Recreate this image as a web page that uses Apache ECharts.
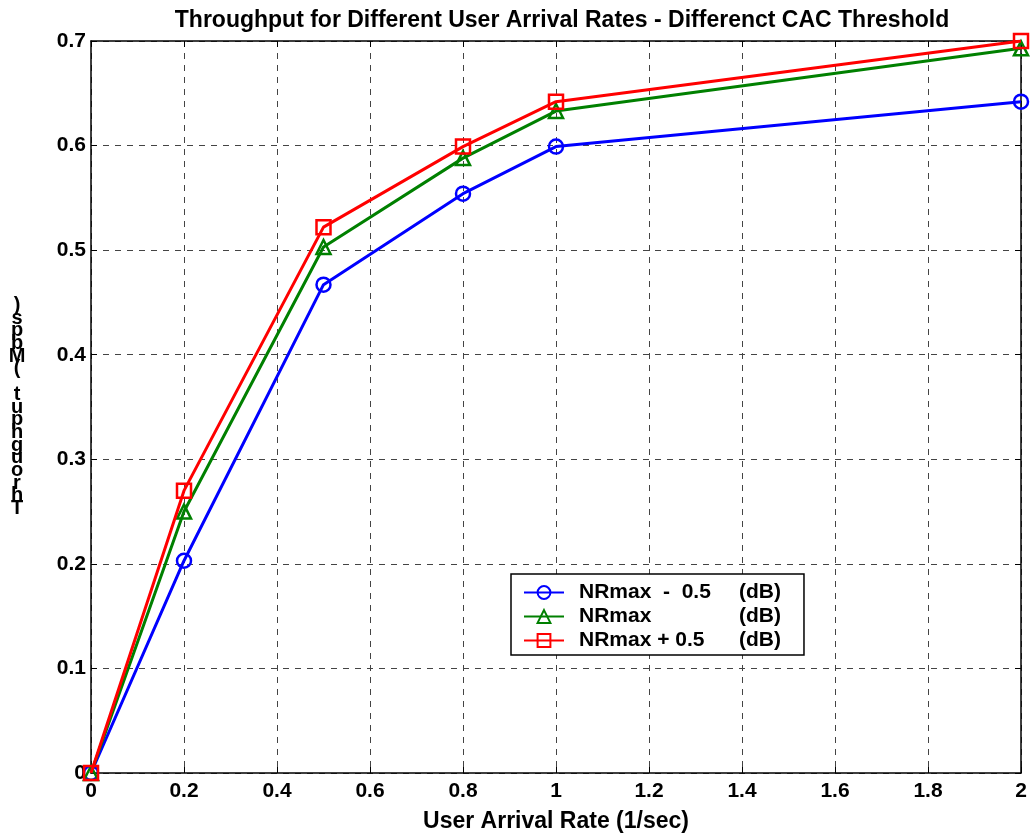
<!DOCTYPE html>
<html>
<head>
<meta charset="utf-8">
<script src="https://cdn.jsdelivr.net/npm/echarts@6/dist/echarts.min.js"></script>
<style>
  html, body { margin: 0; padding: 0; background: #fff; }
  #chart { width: 1032px; height: 838px; }
</style>
</head>
<body>
<div id="chart"></div>
<script>
// arrival rates (1/sec)
const rates = [0, 0.2, 0.5, 0.8, 1, 2];
const seriesNames = ['NRmax - 0.5 (dB)', 'NRmax (dB)', 'NRmax + 0.5 (dB)'];
const legendParts = {
  'NRmax - 0.5 (dB)': ['NRmax  -  0.5', '(dB)'],
  'NRmax (dB)': ['NRmax', '(dB)'],
  'NRmax + 0.5 (dB)': ['NRmax + 0.5', '(dB)']
};
const thrMinus = [0, 0.203, 0.467, 0.554, 0.599, 0.642];
const thrNominal = [0, 0.250, 0.503, 0.588, 0.633, 0.693];
const thrPlus = [0, 0.270, 0.522, 0.599, 0.642, 0.700];
const colors = ['#0000ff', '#008000', '#ff0000'];
const symbols = ['circle', 'triangle', 'rect'];

const font = 'Liberation Sans, Arial, sans-serif';

const chart = echarts.init(document.getElementById('chart'));

function pairs(vals) {
  return rates.map((x, i) => [x, vals[i]]);
}

// the y label is drawn the way the original rendered it: letters stacked, reversed
const yLabel = 'Throughput (Mbps)'.split('').reverse().join('\n');

function makeSeries(name, vals, i) {
  return {
    name: name,
    type: 'line',
    data: pairs(vals),
    symbol: symbols[i],
    symbolSize: 14,
    showAllSymbol: true,
    lineStyle: { color: colors[i], width: 3 },
    itemStyle: { color: 'rgba(255,255,255,0)', borderColor: colors[i], borderWidth: 2.5 },
    emphasis: { disabled: true },
    z: 3 + i
  };
}

const option = {
  backgroundColor: '#fff',
  animation: false,
  title: {
    text: 'Throughput for Different User Arrival Rates - Differenct CAC Threshold',
    left: 557,
    textAlign: 'center',
    top: 4,
    textStyle: { fontFamily: font, fontWeight: 'bold', fontSize: 23, color: '#000' }
  },
  grid: { left: 91, right: 11, top: 41, bottom: 64 },
  legend: {
    left: 511,
    top: 574,
    orient: 'vertical',
    backgroundColor: '#fff',
    borderColor: '#000',
    borderWidth: 1.5,
    padding: [8, 23, 4, 12],
    itemGap: 3,
    itemWidth: 40,
    itemHeight: 16,
    data: seriesNames,
    formatter: function (name) {
      const p = legendParts[name];
      return '{a|' + p[0] + '}{b|' + p[1] + '}';
    },
    textStyle: {
      fontFamily: font, fontWeight: 'bold', fontSize: 21, color: '#000',
      rich: {
        a: { fontFamily: font, fontWeight: 'bold', fontSize: 21, width: 160, padding: [0, 0, 0, 10] },
        b: { fontFamily: font, fontWeight: 'bold', fontSize: 21 }
      }
    }
  },
  xAxis: [{
    type: 'value',
    min: 0,
    max: 2,
    interval: 0.2,
    name: 'User Arrival Rate (1/sec)',
    nameLocation: 'middle',
    nameGap: 37,
    nameTextStyle: { fontFamily: font, fontWeight: 'bold', fontSize: 23, color: '#000' },
    axisLine: { lineStyle: { color: '#000', width: 1.5 } },
    axisTick: { inside: true, length: 6, lineStyle: { color: '#000' } },
    axisLabel: {
      fontFamily: font, fontWeight: 'bold', fontSize: 21, color: '#000', margin: 8,
      formatter: function (v) { return String(+v.toFixed(1)); }
    },
    splitLine: { show: true, lineStyle: { color: '#444', type: [6, 6], width: 1 } }
  }, {
    type: 'value', position: 'top', min: 0, max: 2, interval: 0.2,
    axisLine: { show: true, onZero: false, lineStyle: { color: '#000', width: 1.5 } },
    axisTick: { show: true, inside: true, length: 6, lineStyle: { color: '#000' } },
    axisLabel: { show: false }, splitLine: { show: false }
  }],
  yAxis: [{
    type: 'value',
    min: 0,
    max: 0.7,
    interval: 0.1,
    name: yLabel,
    nameLocation: 'middle',
    nameRotate: 0,
    nameGap: 74,
    nameTextStyle: {
      fontFamily: font, fontWeight: 'bold', fontSize: 20, color: '#000',
      lineHeight: 12.7, align: 'center', padding: [24, 0, 0, 0]
    },
    axisLine: { show: true, lineStyle: { color: '#000', width: 1.5 } },
    axisTick: { show: true, inside: true, length: 6, lineStyle: { color: '#000' } },
    axisLabel: {
      fontFamily: font, fontWeight: 'bold', fontSize: 21, color: '#000', margin: 5,
      formatter: function (v) { return String(+v.toFixed(1)); }
    },
    splitLine: { show: true, lineStyle: { color: '#444', type: [6, 6], width: 1 } }
  }, {
    type: 'value', position: 'right', min: 0, max: 0.7, interval: 0.1,
    axisLine: { show: true, onZero: false, lineStyle: { color: '#000', width: 1.5 } },
    axisTick: { show: true, inside: true, length: 6, lineStyle: { color: '#000' } },
    axisLabel: { show: false }, splitLine: { show: false }
  }],
  series: [
    makeSeries(seriesNames[0], thrMinus, 0),
    makeSeries(seriesNames[1], thrNominal, 1),
    makeSeries(seriesNames[2], thrPlus, 2)
  ]
};

chart.setOption(option);
</script>
</body>
</html>
